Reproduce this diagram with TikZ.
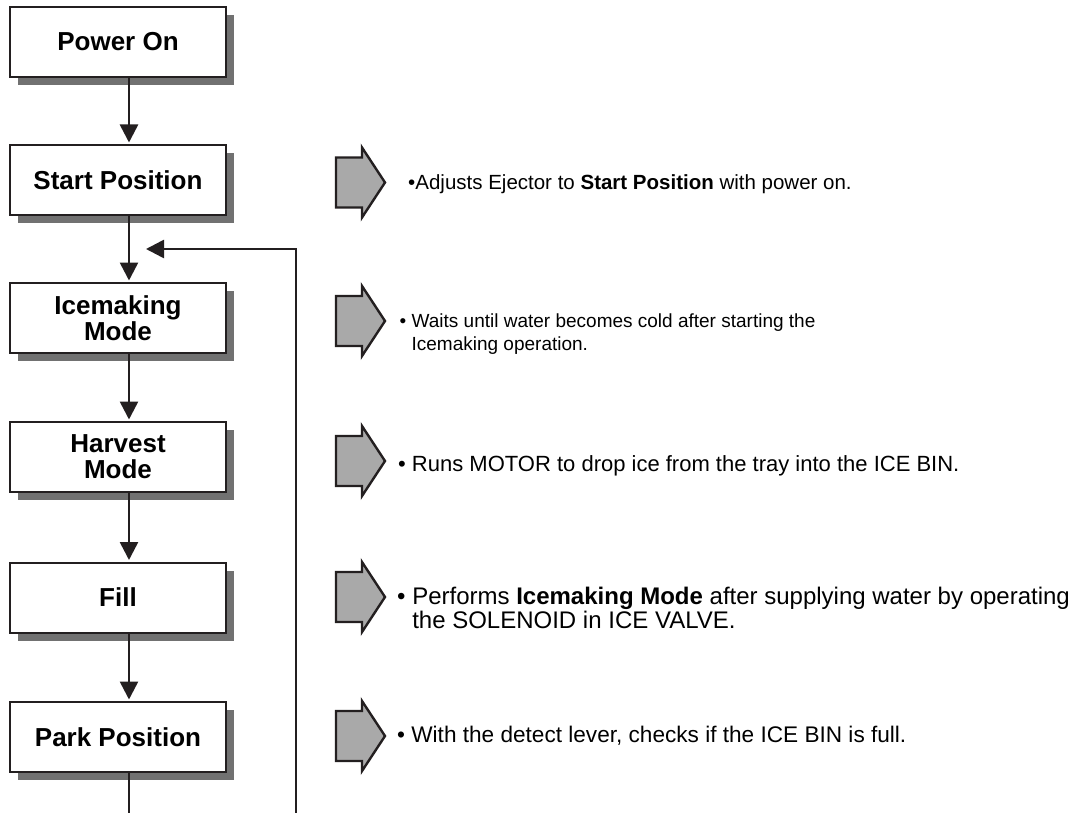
\documentclass[tikz,border=0pt]{standalone}
\usepackage{fontspec}
\setmainfont{Liberation Sans}
\usetikzlibrary{arrows.meta,shadows}
\definecolor{ink}{HTML}{231F20}
\definecolor{shade}{HTML}{717171}
\definecolor{arrfill}{HTML}{A9A9A9}
\tikzset{
  stepbox/.style={draw=ink, line width=2pt, fill=white, minimum width=216pt, minimum height=70pt,
    inner sep=0pt, align=center, font=\fontsize{26}{26}\selectfont\bfseries,
    drop shadow={shadow xshift=8pt, shadow yshift=-8pt, fill=shade, opacity=1}},
  flow/.style={draw=ink, line width=2.6pt, -{Triangle[length=18pt,width=18pt]}},
  plainline/.style={draw=ink, line width=2.6pt},
  desc/.style={anchor=base west, inner sep=0pt, align=left},
  bigarrow/.pic={\draw[fill=arrfill, draw=ink, line width=2.4pt, line join=miter]
     (0,-25) -- (26,-25) -- (26,-35) -- (49,0) -- (26,35) -- (26,25) -- (0,25) -- cycle;}
}
\begin{document}
\begin{tikzpicture}[x=1pt,y=-1pt]
\useasboundingbox (0,0) rectangle (1081,813);
% boxes
\node[stepbox] (pwr)   at (118,42)    {Power On};
\node[stepbox] (start) at (118,180)   {Start Position};
\node[stepbox] (ice)   at (118,318)   {Icemaking\\Mode};
\node[stepbox] (harv)  at (118,457)   {Harvest\\Mode};
\node[stepbox] (fill)  at (118,597.5) {Fill};
\node[stepbox] (park)  at (118,737)   {Park Position};
% helper coordinates
\coordinate (ax) at (129,0);
\coordinate (pend) at (129,813);
\coordinate (fbend) at (296,813);
\coordinate (fbtop) at (296,249);
\coordinate (fbtip) at (146,249);
% flow arrows
\draw[flow, shorten >=1.5pt] (pwr.south -| ax) -- (start.north -| ax);
\draw[flow, shorten >=1.5pt] (start.south -| ax) -- (ice.north -| ax);
\draw[flow, shorten >=1.5pt] (ice.south -| ax) -- (harv.north -| ax);
\draw[flow, shorten >=1.5pt] (harv.south -| ax) -- (fill.north -| ax);
\draw[flow, shorten >=1.5pt] (fill.south -| ax) -- (park.north -| ax);
\draw[plainline] (park.south -| ax) -- (pend);
\draw[flow] (fbend) -- (fbtop) -- (fbtip);
% block arrows
\pic at (336,182.5) {bigarrow};
\pic at (336,321) {bigarrow};
\pic at (336,461) {bigarrow};
\pic at (336,597) {bigarrow};
\pic at (336,736) {bigarrow};
% descriptions (base anchor = baseline of last line)
\node[desc, font=\fontsize{20.5}{23}\selectfont] (d1) at (408,189.5) {•Adjusts Ejector to \textbf{Start Position} with power on.};
\node[desc, font=\fontsize{19}{23}\selectfont] (d2) at (399.5,350) {• Waits until water becomes cold after starting the\\\hphantom{• }Icemaking operation.};
\node[desc, font=\fontsize{22}{23}\selectfont] (d3) at (398,471) {• Runs MOTOR to drop ice from the tray into the ICE BIN.};
\node[desc, font=\fontsize{24}{22}\selectfont] (d4) at (397,628) {• Performs \textbf{Icemaking Mode} after supplying water by operating\\\hphantom{• }the SOLENOID in ICE VALVE.};
\node[desc, font=\fontsize{22.6}{23}\selectfont] (d5) at (397,742) {• With the detect lever, checks if the ICE BIN is full.};
\end{tikzpicture}
\end{document}
